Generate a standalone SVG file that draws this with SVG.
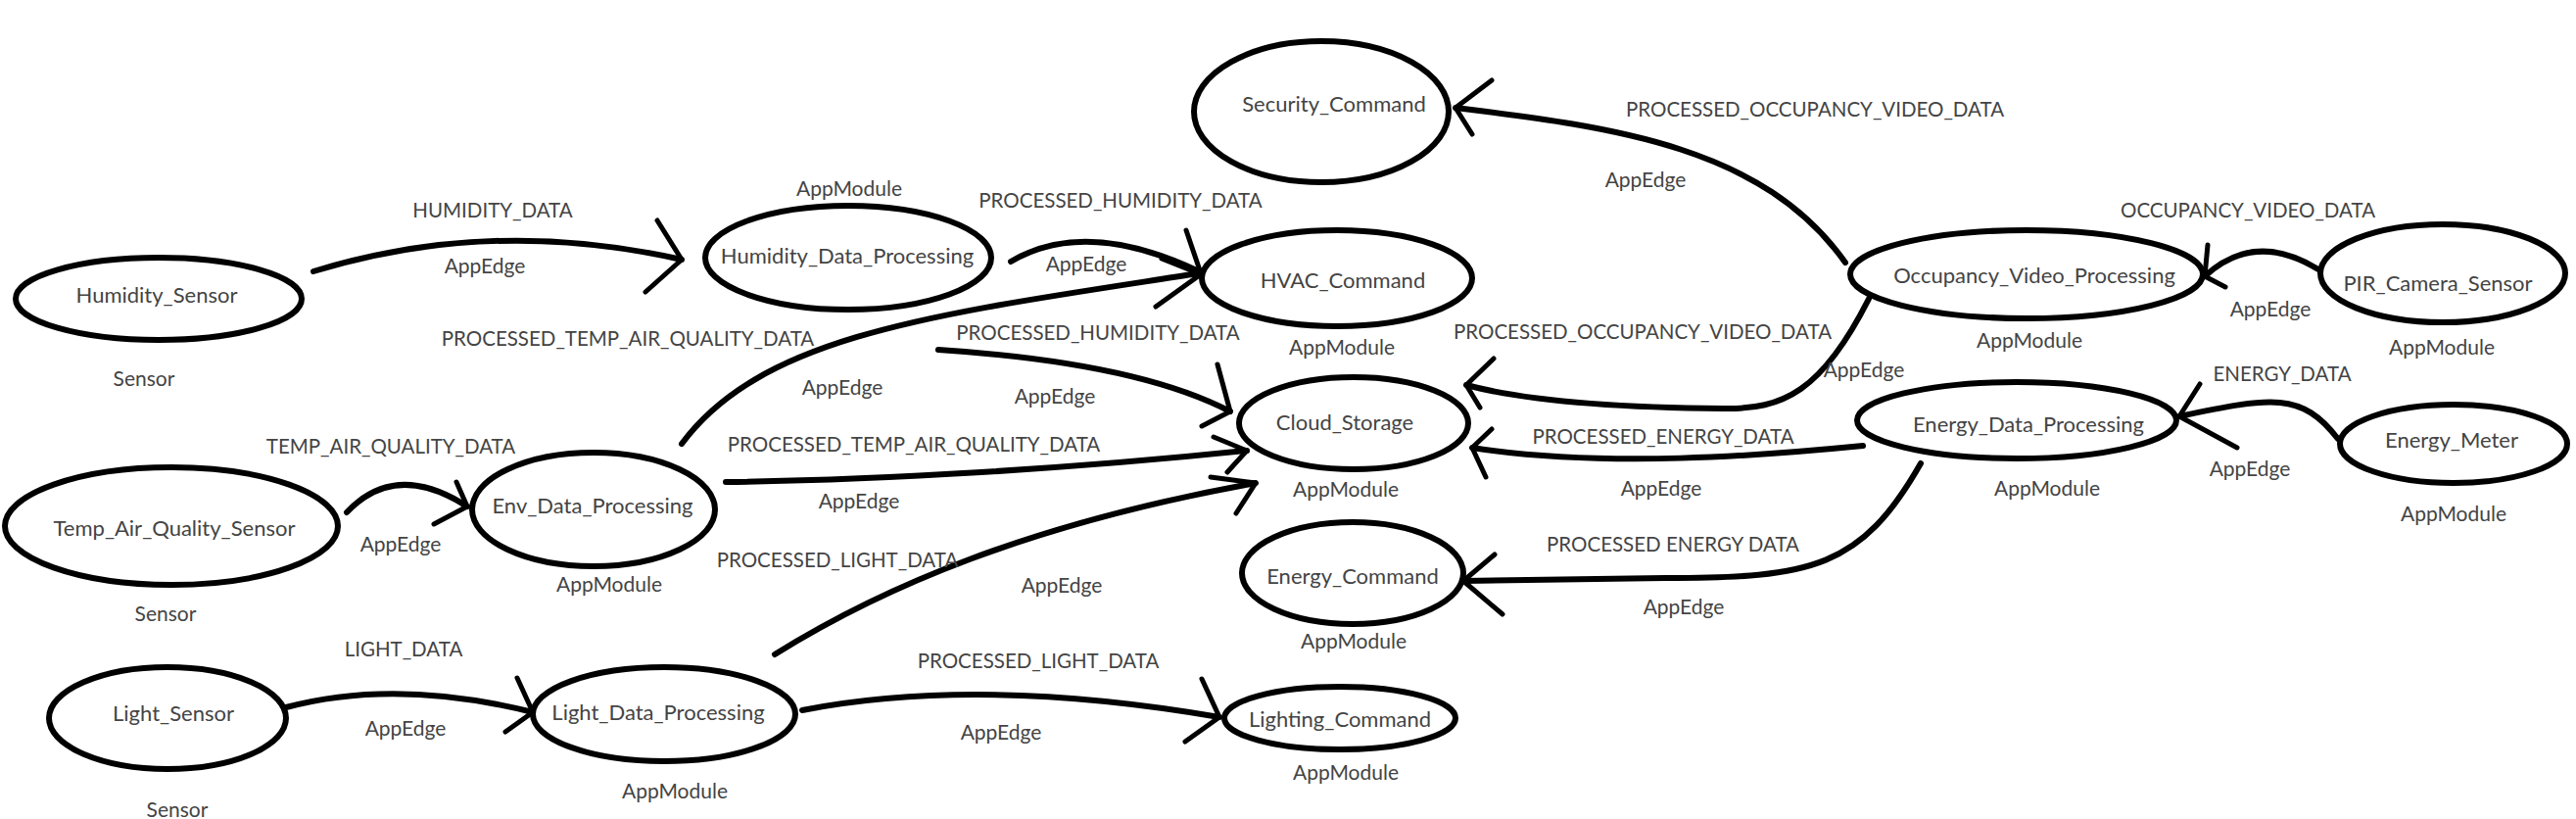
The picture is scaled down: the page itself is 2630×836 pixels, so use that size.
<svg xmlns="http://www.w3.org/2000/svg" width="2630" height="836" viewBox="0 0 2630 836">
<style>
.node ellipse{fill:none;stroke:#000;stroke-width:6}
.nl{font-family:Lato,"Liberation Sans",sans-serif;font-size:22px;fill:#444;text-anchor:middle;dominant-baseline:central}
.tl{font-family:Lato,"Liberation Sans",sans-serif;font-size:21px;fill:#444;text-anchor:middle;dominant-baseline:central}
.el{font-family:Lato,"Liberation Sans",sans-serif;font-size:20.5px;fill:#444;text-anchor:middle;dominant-baseline:central}
.edges path{fill:none;stroke:#000;stroke-width:6;stroke-linecap:round;stroke-linejoin:round}
.edges path.arr{stroke-width:5}
</style>
<rect width="2630" height="836" fill="#fff"/>
<g class="edges" id="connectors">
<path d="M320,277 Q502,221 696,265"/><path class="arr" d="M671,225 L696,265 L659,298"/>
<path d="M1032,267 Q1108,222 1224,277"/><path class="arr" d="M1211,235 L1226,279"/>
<path d="M696,453 C780,340 960,320 1224,279"/><path class="arr" d="M1186,264 L1226,280 L1180,313"/>
<path d="M958,357 Q1160,370 1256,420"/><path class="arr" d="M1243,372 L1256,420 L1227,435"/>
<path d="M741,492 C900,490 1100,478 1273,460"/><path class="arr" d="M1239,446 L1273,460 L1253,482"/>
<path d="M791,668 C900,600 1050,535 1282,493"/><path class="arr" d="M1236,487 L1282,493 L1262,524"/>
<path d="M819,725 Q1000,690 1245,732"/><path class="arr" d="M1227,693 L1245,732 L1210,757"/>
<path d="M292,722 Q404,692 544,727"/><path class="arr" d="M528,692 L544,727 L516,747"/>
<path d="M354,523 Q404,470 477,517"/><path class="arr" d="M466,492 L477,517 L443,535"/>
<path d="M1884,268 C1800,150 1650,130 1486,110"/><path class="arr" d="M1523,82 L1486,110 L1503,137"/>
<path d="M2367,275 Q2302,235 2251,282"/><path class="arr" d="M2254,250 L2251,282 L2272,293"/>
<path d="M1908,305 C1860,400 1820,418 1760,417 C1650,416 1560,410 1497,393"/><path class="arr" d="M1525,366 L1497,393 L1511,416"/>
<path d="M2387,448 C2350,400 2320,405 2225,425"/><path class="arr" d="M2246,392 L2225,425 L2284,457"/>
<path d="M1902,455 C1800,465 1640,478 1503,457"/><path class="arr" d="M1523,438 L1503,457 L1517,487"/>
<path d="M1961,473 C1900,580 1850,590 1700,590 L1494,593"/><path class="arr" d="M1526,566 L1494,593 L1534,627"/>
</g>
<g id="edge-labels">
<text class="el" x="503" y="214">HUMIDITY_DATA</text><text class="tl" x="495" y="270">AppEdge</text>
<text class="el" x="1144" y="204">PROCESSED_HUMIDITY_DATA</text><text class="tl" x="1109" y="268">AppEdge</text>
<text class="el" x="641" y="345">PROCESSED_TEMP_AIR_QUALITY_DATA</text><text class="tl" x="860" y="394">AppEdge</text>
<text class="el" x="1121" y="339">PROCESSED_HUMIDITY_DATA</text><text class="tl" x="1077" y="403">AppEdge</text>
<text class="el" x="933" y="453">PROCESSED_TEMP_AIR_QUALITY_DATA</text><text class="tl" x="877" y="510">AppEdge</text>
<text class="el" x="855" y="571">PROCESSED_LIGHT_DATA</text><text class="tl" x="1084" y="596">AppEdge</text>
<text class="el" x="1060" y="674">PROCESSED_LIGHT_DATA</text><text class="tl" x="1022" y="746">AppEdge</text>
<text class="el" x="412" y="662">LIGHT_DATA</text><text class="tl" x="414" y="742">AppEdge</text>
<text class="el" x="399" y="455">TEMP_AIR_QUALITY_DATA</text><text class="tl" x="409" y="554">AppEdge</text>
<text class="el" x="1853" y="111">PROCESSED_OCCUPANCY_VIDEO_DATA</text><text class="tl" x="1680" y="182">AppEdge</text>
<text class="el" x="2295" y="214">OCCUPANCY_VIDEO_DATA</text><text class="tl" x="2318" y="314">AppEdge</text>
<text class="el" x="1677" y="338">PROCESSED_OCCUPANCY_VIDEO_DATA</text><text class="tl" x="1903" y="376">AppEdge</text>
<text class="el" x="2330" y="381">ENERGY_DATA</text><text class="tl" x="2297" y="477">AppEdge</text>
<text class="el" x="1698" y="445">PROCESSED_ENERGY_DATA</text><text class="tl" x="1696" y="497">AppEdge</text>
<text class="el" x="1708" y="555">PROCESSED  ENERGY  DATA</text><text class="tl" x="1719" y="618">AppEdge</text>
</g>
<g class="node" id="Humidity_Sensor"><ellipse cx="162" cy="305" rx="146" ry="42"/><text class="nl" x="160" y="300">Humidity_Sensor</text><text class="tl" x="147" y="385">Sensor</text></g>
<g class="node" id="Humidity_Data_Processing"><ellipse cx="866" cy="263" rx="146" ry="53"/><text class="nl" x="865" y="260">Humidity_Data_Processing</text><text class="tl" x="867" y="191">AppModule</text></g>
<g class="node" id="Security_Command"><ellipse cx="1349" cy="114" rx="130" ry="72"/><text class="nl" x="1362" y="105">Security_Command</text></g>
<g class="node" id="HVAC_Command"><ellipse cx="1365" cy="284" rx="138" ry="49"/><text class="nl" x="1371" y="285">HVAC_Command</text><text class="tl" x="1370" y="353">AppModule</text></g>
<g class="node" id="Cloud_Storage"><ellipse cx="1382" cy="432" rx="117" ry="47"/><text class="nl" x="1373" y="430">Cloud_Storage</text><text class="tl" x="1374" y="498">AppModule</text></g>
<g class="node" id="Energy_Command"><ellipse cx="1381" cy="585" rx="113" ry="52"/><text class="nl" x="1381" y="587">Energy_Command</text><text class="tl" x="1382" y="653">AppModule</text></g>
<g class="node" id="Lighting_Command"><ellipse cx="1368" cy="733" rx="118" ry="32"/><text class="nl" x="1368" y="733">Lighting_Command</text><text class="tl" x="1374" y="787">AppModule</text></g>
<g class="node" id="Temp_Air_Quality_Sensor"><ellipse cx="175" cy="537" rx="170" ry="60"/><text class="nl" x="178" y="538">Temp_Air_Quality_Sensor</text><text class="tl" x="169" y="625">Sensor</text></g>
<g class="node" id="Env_Data_Processing"><ellipse cx="606" cy="520" rx="124" ry="58"/><text class="nl" x="605" y="515">Env_Data_Processing</text><text class="tl" x="622" y="595">AppModule</text></g>
<g class="node" id="Light_Sensor"><ellipse cx="171" cy="733" rx="121" ry="52"/><text class="nl" x="177" y="727">Light_Sensor</text><text class="tl" x="181" y="825">Sensor</text></g>
<g class="node" id="Light_Data_Processing"><ellipse cx="678" cy="729" rx="134" ry="48"/><text class="nl" x="672" y="726">Light_Data_Processing</text><text class="tl" x="689" y="806">AppModule</text></g>
<g class="node" id="Occupancy_Video_Processing"><ellipse cx="2069" cy="280" rx="180" ry="45"/><text class="nl" x="2077" y="280">Occupancy_Video_Processing</text><text class="tl" x="2072" y="346">AppModule</text></g>
<g class="node" id="PIR_Camera_Sensor"><ellipse cx="2494" cy="279" rx="125" ry="50"/><text class="nl" x="2489" y="288">PIR_Camera_Sensor</text><text class="tl" x="2493" y="353">AppModule</text></g>
<g class="node" id="Energy_Data_Processing"><ellipse cx="2059" cy="429" rx="163" ry="39"/><text class="nl" x="2071" y="432">Energy_Data_Processing</text><text class="tl" x="2090" y="497">AppModule</text></g>
<g class="node" id="Energy_Meter"><ellipse cx="2505" cy="453" rx="116" ry="40"/><text class="nl" x="2503" y="448">Energy_Meter</text><text class="tl" x="2505" y="523">AppModule</text></g>
</svg>
